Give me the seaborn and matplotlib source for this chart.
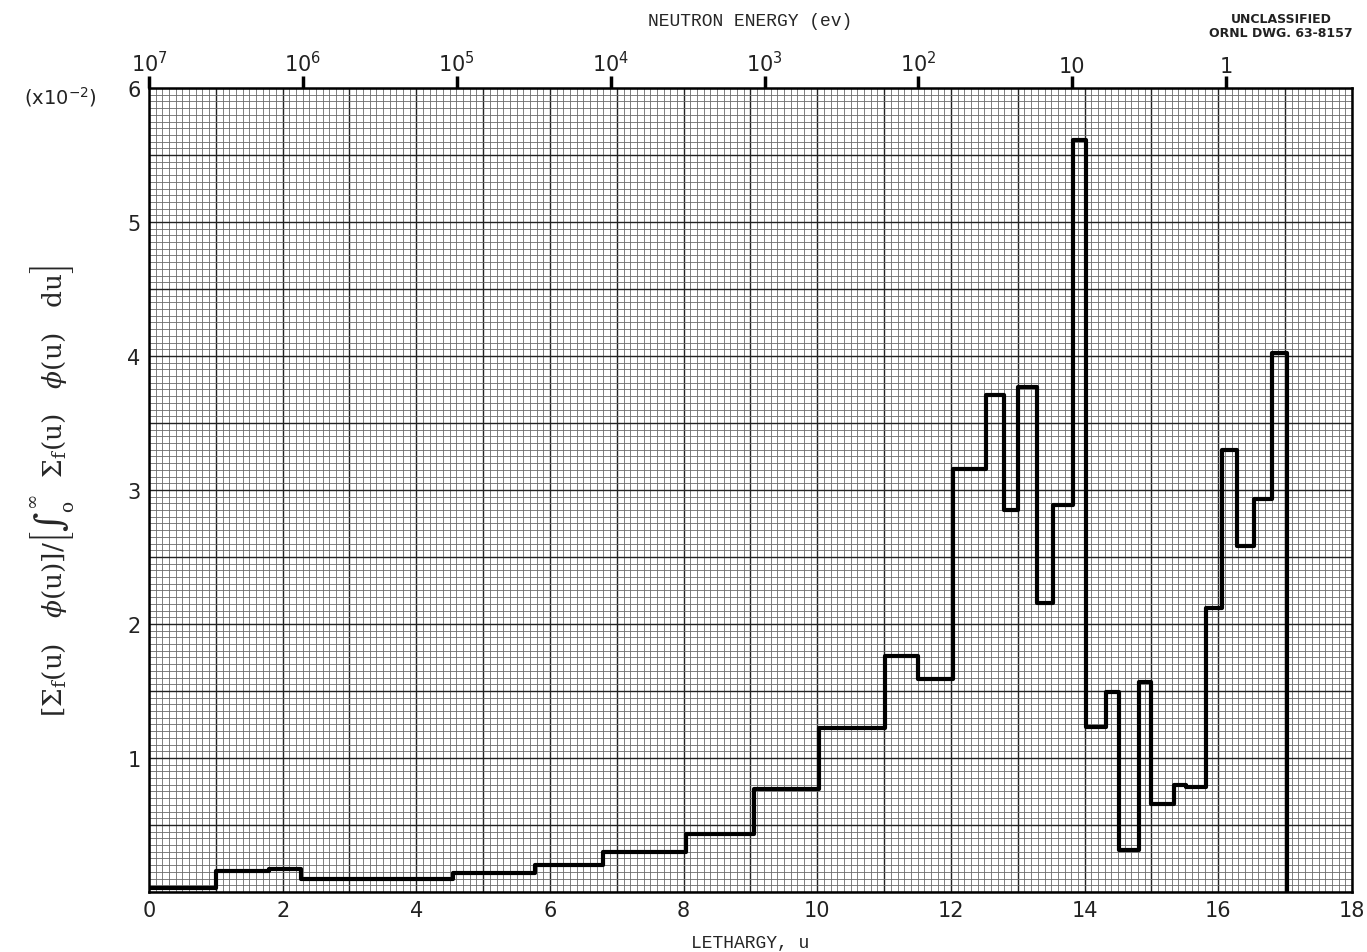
import numpy as np
import matplotlib
matplotlib.use('Agg')
import matplotlib.pyplot as plt
import seaborn as sns

sns.set_style('white')
plt.rcParams['font.family'] = ['DejaVu Sans']
plt.rcParams['mathtext.fontset'] = 'dejavusans'

# group boundaries in lethargy and normalized fission rate per group (x10^-2)
u_edges = [0, 1.0, 1.8, 2.28, 4.55, 5.78, 6.8, 8.04, 9.05, 10.03,
           11.01, 11.51, 12.03, 12.52, 12.79, 13.01, 13.28, 13.52, 13.83, 14.02,
           14.32, 14.52, 14.82, 15.0, 15.34, 15.51, 15.82, 16.05, 16.28, 16.53,
           16.81, 17.03]
rate = [0.03, 0.16, 0.17, 0.10, 0.14, 0.20, 0.30, 0.43, 0.77, 1.22,
        1.76, 1.59, 3.16, 3.71, 2.85, 3.77, 2.16, 2.89, 5.61, 1.23,
        1.49, 0.31, 1.57, 0.66, 0.80, 0.78, 2.12, 3.30, 2.58, 2.93,
        4.02]

energies = [1e7, 1e6, 1e5, 1e4, 1e3, 1e2, 10, 1]
energy_labels = [r'10$^7$', r'10$^6$', r'10$^5$', r'10$^4$', r'10$^3$',
                 r'10$^2$', '10', '1']

x_labels = [str(i) if i % 2 == 0 else '' for i in range(19)]
y_labels = ['' if v == 0 or v % 1 else str(int(v)) for v in np.arange(0, 6.01, 0.5)]

mTickSize = 15
mono = 'Liberation Mono'

fig = plt.figure(figsize=(13.67, 9.53), dpi=100)
ax = fig.add_axes([0.109, 0.063, 0.880, 0.8436])

sns.lineplot(x=u_edges, y=rate + [0], drawstyle='steps-post', estimator=None,
             color='black', linewidth=3.0, ax=ax, zorder=5)

ax.set_xlim(0, 18)
ax.set_ylim(0, 6)

# graph paper
ax.set_xticks(np.arange(0, 18.01, 1))
ax.set_xticklabels(x_labels)
ax.set_xticks(np.arange(0, 18.01, 0.1), minor=True)
ax.set_yticks(np.arange(0, 6.01, 0.5))
ax.set_yticklabels(y_labels)
ax.set_yticks(np.arange(0, 6.01, 0.05), minor=True)
ax.grid(which='major', color='#222222', linewidth=1.0)
ax.grid(which='minor', color='#6a6a6a', linewidth=0.6)
ax.set_axisbelow(True)
ax.tick_params(which='both', length=0, labelsize=mTickSize, colors='#222222', pad=6)
for s in ax.spines.values():
    s.set_color('black')
    s.set_linewidth(1.8)

ax.set_xlabel('LETHARGY, u', fontsize=13, family=mono, labelpad=10)
ylab = (r'$[\Sigma_{\rm f}{\rm(u)}\quad\phi{\rm(u)}]/'
        r'\left[\int_{\rm o}^{\infty}\ \ \Sigma_{\rm f}{\rm(u)}\quad\phi{\rm(u)}\quad{\rm du}\right]$')
ax.set_ylabel(ylab, fontsize=19, math_fontfamily='dejavuserif', labelpad=36)

# neutron energy scale on top
top = ax.twiny()
top.set_xlim(0, 18)
top.set_xticks([np.log(1e7 / e) for e in energies])
top.set_xticklabels(energy_labels)
top.tick_params(axis='x', direction='out', length=9, width=2.5, labelsize=mTickSize,
                colors='black', labelcolor='#222222', pad=0)
top.grid(False)
top.set_xlabel('NEUTRON ENERGY (ev)', fontsize=13, family=mono, labelpad=18)
for s in top.spines.values():
    s.set_visible(False)

fig.text(0.044, 0.898, r'(x10$^{-2}$)', fontsize=14, color='#222222', ha='center', va='center')
fig.text(0.937, 0.972, 'UNCLASSIFIED\nORNL DWG. 63-8157', fontsize=9, weight='bold',
         ha='center', va='center', linespacing=1.1, color='#222222')

plt.savefig('out.png', dpi=100)
